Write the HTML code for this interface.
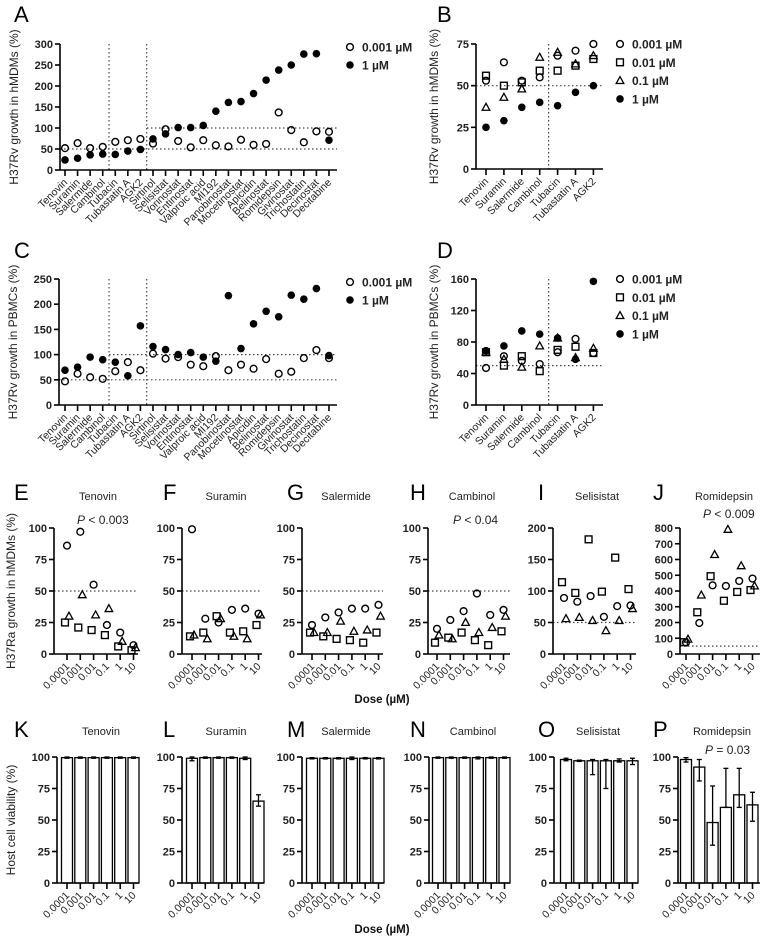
<!DOCTYPE html>
<html><head><meta charset="utf-8">
<style>
html,body{margin:0;padding:0;background:#fff;}
svg{display:block;font-family:"Liberation Sans",Arial,sans-serif;}
</style></head>
<body>
<svg id="fig" width="778" height="944" viewBox="0 0 778 944" xmlns="http://www.w3.org/2000/svg"></svg>
<script>
// ---------- DATA ----------
const catsA = ['Tenovin','Suramin','Salermide','Cambinol','Tubacin','Tubastatin A','AGK2','Sirtinol','Selisistat','Vorinostat','Entinostat','Valproic acid','MI192','Panobinostat','Mocetinostat','Apicidin','Belinostat','Romidepsin','Givinostat','Trichostatin','Decinostat','Decitabine'];
const aOpen   = [52,64,52,55,67,71,74,63,97,69,54,71,59,56,72,60,62,137,95,66,92,91];
const aFilled = [24,28,36,38,37,45,49,74,86,101,101,106,140,161,163,182,214,238,250,276,277,71];
const cOpen   = [47,62,55,52,67,85,69,102,92,95,80,77,97,69,80,72,91,62,66,93,109,93];
const cFilled = [69,75,95,90,85,58,157,116,110,100,104,95,87,217,112,161,186,175,218,210,231,98];
const catsB = ['Tenovin','Suramin','Salermide','Cambinol','Tubacin','Tubastatin A','AGK2'];
const bCircle = [53,64,53,55,68,71,75];
const bSquare = [56,50,52,59,59,62,66];
const bTri    = [37,43,48,67,70,63,68];
const bFilled = [25,29,37,40,38,46,50];
const dCircle = [47,62,56,52,67,84,66];
const dSquare = [67,50,62,43,70,74,66];
const dTri    = [67,58,48,75,85,60,72];
const dFilled = [69,75,94,90,85,58,157];
const doses = ['0.0001','0.001','0.01','0.1','1','10'];
const tenCircle=[86,97,55,23,17,7], tenSquare=[25,21,19,15,6,3], tenTri=[30,47,31,36,10,5];
const surCircle=[99,28,25,35,36,32], surSquare=[14,17,30,17,18,23], surTri=[15,12,28,14,12,31];
const salCircle=[23,29,33,36,36,39], salSquare=[17,14,12,11,9,17], salTri=[17,17,26,18,19,30];
const camCircle=[20,27,34,48,31,35], camSquare=[9,13,17,11,7,18], camTri=[15,12,25,17,21,30];
const selCircle=[89,83,92,59,76,77], selSquare=[114,97,182,99,153,103], selTri=[56,58,53,37,53,72];
const romCircle=[73,197,436,432,464,479], romSquare=[75,265,494,338,394,406], romTri=[94,374,631,791,560,432];
const vTen=[99.5,99.5,99.5,99.5,99.5,99.5], vTenLo=[99,99,99,99,99,99], vTenHi=[100,100,100,100,100,100];
const vSur=[99,99.5,99.5,99.5,99,65], vSurLo=[97,99,99,99,98,61], vSurHi=[100,100,100,100,100,70];
const vSal=[99,99,99,99,99,99], vSalLo=[98.5,98.5,98.5,98,98.5,98.5], vSalHi=[99.5,99.5,99.5,100,99.5,99.5];
const vCam=[99.5,99.5,99.5,99.5,99.5,99.5], vCamLo=[99,99,99,98.5,99,99], vCamHi=[100,100,100,100,100,100];
const vSel=[98,97,97,97,97,97], vSelLo=[97,96.5,86,75,96,94], vSelHi=[99,97.5,98,98,98.5,99];
const vRom=[98,92,48,60,70,62], vRomLo=[96,81,30,60,60,49], vRomHi=[99.5,98,77,91,91,72];

// ---------- HELPERS ----------
const NS='http://www.w3.org/2000/svg';
const svg=document.getElementById('fig');
function el(tag,attrs,parent,txt){const e=document.createElementNS(NS,tag);for(const k in attrs)e.setAttribute(k,attrs[k]);if(txt!==undefined)e.textContent=txt;(parent||svg).appendChild(e);return e;}
function sy(v,p){return p.yb-(v-p.min)/(p.max-p.min)*(p.yb-p.yt);}
function marker(g,type,x,y,name){
  let m;
  if(type==='circle') m=el('circle',{cx:x,cy:y,r:3.4,fill:'none',stroke:'#000','stroke-width':1.4},g);
  else if(type==='filled') m=el('circle',{cx:x,cy:y,r:3.8,fill:'#000'},g);
  else if(type==='square') m=el('rect',{x:x-3.4,y:y-3.4,width:6.8,height:6.8,fill:'none',stroke:'#000','stroke-width':1.4},g);
  else m=el('polygon',{points:`${x},${y-4} ${x+3.8},${y+2.9} ${x-3.8},${y+2.9}`,fill:'none',stroke:'#000','stroke-width':1.3},g);
  
  
  return m;
}
function yAxis(g,p,ticks,fs){
  el('line',{x1:p.ax,y1:p.yt,x2:p.ax,y2:p.yb,stroke:'#000','stroke-width':1.6},g);
  ticks.forEach(t=>{const y=sy(t,p);
    el('line',{x1:p.ax-5,y1:y,x2:p.ax,y2:y,stroke:'#000','stroke-width':1.6},g);
    const tx=el('text',{x:p.ax-7,y:y+4,'font-size':fs||11,'text-anchor':'end','font-weight':'bold',fill:'#222'},g,String(t));
    
    
  });
}
function xAxis(g,p,labels,xs,fs){
  el('line',{x1:p.ax,y1:p.yb,x2:p.xe,y2:p.yb,stroke:'#000','stroke-width':1.6},g);
  labels.forEach((l,i)=>{const x=xs[i];
    el('line',{x1:x,y1:p.yb,x2:x,y2:p.yb+6,stroke:'#000','stroke-width':1.6},g);
    const tx=el('text',{x:x+3,y:p.yb+13,'font-size':fs,'text-anchor':'end',transform:`rotate(-45 ${x+3} ${p.yb+13})`,fill:'#222'},g,l);
    
    
  });
}
function dotted(g,x1,y1,x2,y2){el('line',{x1,y1,x2,y2,stroke:'#444','stroke-width':1.2,'stroke-dasharray':'1.5,2.5'},g);}
function ytitle(g,x,y,t,fs){const e=el('text',{x,y,'font-size':fs||12,'text-anchor':'middle',transform:`rotate(-90 ${x} ${y})`,fill:'#222'},g,t);}
function letter(x,y,t){const e=el('text',{x,y,'font-size':22,fill:'#000'},svg,t);}
function legend(g,x,y0,dy,items){items.forEach((it,i)=>{const y=y0+i*dy;marker(g,it[0],x,y,'legend-marker');const t=el('text',{x:x+12,y:y+4.5,'font-size':12,'font-weight':'bold',fill:'#222'},g,it[1]);});}
function group(name){const g=el('g',{});return g;}

// ---------- PANEL A & C ----------
function wide(name,p,open,filled,ticks,title,hl100){
  const g=group(name);
  const xs=catsA.map((c,i)=>p.x0+i*p.step);
  dotted(g,p.x0+3.5*p.step,p.yt,p.x0+3.5*p.step,p.yb);
  dotted(g,p.x0+6.5*p.step,p.yt,p.x0+6.5*p.step,p.yb);
  dotted(g,hl100,sy(100,p),p.xe,sy(100,p));
  dotted(g,p.ax,sy(50,p),p.xe,sy(50,p));
  yAxis(g,p,ticks);
  xAxis(g,p,catsA,xs,10.5);
  ytitle(g,p.ax-42,(p.yt+p.yb)/2,title);
  open.forEach((v,i)=>marker(g,'circle',xs[i],sy(v,p),'point-0.001'));
  filled.forEach((v,i)=>marker(g,'filled',xs[i],sy(v,p),'point-1'));
  legend(g,350,p.yt+3,18,[['circle','0.001 µM'],['filled','1 µM']]);
}
wide('panel-a',{ax:60,yt:44,yb:170,min:0,max:300,x0:65,step:12.57,xe:337},aOpen,aFilled,[0,50,100,150,200,250,300],'H37Rv growth in hMDMs (%)',147);
wide('panel-c',{ax:59,yt:279,yb:405,min:0,max:250,x0:65,step:12.57,xe:337},cOpen,cFilled,[0,50,100,150,200,250],'H37Rv growth in PBMCs (%)',109);

// ---------- PANEL B & D ----------
function narrow(name,p,series,ticks,title){
  const g=group(name);
  const xs=catsB.map((c,i)=>p.x0+i*p.step);
  dotted(g,p.x0+3.5*p.step,p.yt,p.x0+3.5*p.step,p.yb);
  dotted(g,p.ax,sy(50,p),p.xe,sy(50,p));
  yAxis(g,p,ticks);
  xAxis(g,p,catsB,xs,10.5);
  ytitle(g,p.ax-38,(p.yt+p.yb)/2,title);
  const types=['circle','square','triangle','filled'];
  series.forEach((s,k)=>s.forEach((v,i)=>marker(g,types[k],xs[i],sy(v,p),'point-'+types[k])));
  legend(g,620,p.yt,18.3,[['circle','0.001 µM'],['square','0.01 µM'],['triangle','0.1 µM'],['filled','1 µM']]);
}
narrow('panel-b',{ax:476,yt:44,yb:169,min:0,max:75,x0:486,step:17.9,xe:603},[bCircle,bSquare,bTri,bFilled],[0,25,50,75],'H37Rv growth in hMDMs (%)');
narrow('panel-d',{ax:476,yt:279,yb:405,min:0,max:160,x0:486,step:17.9,xe:603},[dCircle,dSquare,dTri,dFilled],[0,40,80,120,160],'H37Rv growth in PBMCs (%)');

// ---------- PANELS E-J ----------
function dosePanel(name,p,drug,series,ticks,ptext,ppos){
  const g=group(name);
  const xs=doses.map((d,i)=>p.x0+i*13.3);
  dotted(g,p.ax,sy(50,p),p.xe,sy(50,p));
  yAxis(g,p,ticks);
  xAxis(g,p,doses,xs,10.5);
  const t=el('text',{x:p.ax+44,y:500,'font-size':11,'text-anchor':'middle',fill:'#222'},g,drug);
  const types=['circle','square','triangle'], off=[0,-2,2];
  series.forEach((s,k)=>s.forEach((v,i)=>marker(g,types[k],xs[i]+off[k],sy(v,p),'point-'+types[k])));
  if(ptext){const pt=el('text',{x:ppos[0],y:ppos[1],'font-size':12,fill:'#222'},g);
    el('tspan',{'font-style':'italic'},pt,'P');el('tspan',{},pt,ptext);}
}
const rowE={yt:528,yb:654};
dosePanel('panel-e',{ax:54,x0:67,xe:138,min:0,max:100,...rowE},'Tenovin',[tenCircle,tenSquare,tenTri],[0,25,50,75,100],' < 0.003',[77,524]);
dosePanel('panel-f',{ax:182,x0:192,xe:262,min:0,max:100,...rowE},'Suramin',[surCircle,surSquare,surTri],[0,25,50,75,100]);
dosePanel('panel-g',{ax:302,x0:312,xe:383,min:0,max:100,...rowE},'Salermide',[salCircle,salSquare,salTri],[0,25,50,75,100]);
dosePanel('panel-h',{ax:428,x0:437,xe:510,min:0,max:100,...rowE},'Cambinol',[camCircle,camSquare,camTri],[0,25,50,75,100],' < 0.04',[453,524]);
dosePanel('panel-i',{ax:553,x0:564,xe:636,min:0,max:200,...rowE},'Selisistat',[selCircle,selSquare,selTri],[0,50,100,150,200]);
dosePanel('panel-j',{ax:680,x0:686,xe:760,min:0,max:800,...rowE},'Romidepsin',[romCircle,romSquare,romTri],[0,100,200,300,400,500,600,700,800],' < 0.009',[703,518]);
ytitle(svg,15,591,'H37Ra growth in hMDMs (%)');

// ---------- PANELS K-P ----------
function barPanel(name,p,drug,vals,lo,hi,ptext,ppos){
  const g=group(name);
  const xs=doses.map((d,i)=>p.x0+i*13.3);
  vals.forEach((v,i)=>{const b=el('rect',{x:xs[i]-5.5,y:sy(v,p),width:11,height:p.yb-sy(v,p),fill:'#fff',stroke:'#000','stroke-width':1.3},g);
    
    
    const y1=sy(lo[i],p),y2=sy(hi[i],p);
    el('line',{x1:xs[i],y1:y1,x2:xs[i],y2:y2,stroke:'#000','stroke-width':1.3},g);
    el('line',{x1:xs[i]-2.5,y1:y1,x2:xs[i]+2.5,y2:y1,stroke:'#000','stroke-width':1.3},g);
    el('line',{x1:xs[i]-2.5,y1:y2,x2:xs[i]+2.5,y2:y2,stroke:'#000','stroke-width':1.3},g);
  });
  yAxis(g,p,[0,25,50,75,100]);
  xAxis(g,p,doses,xs,10.5);
  const t=el('text',{x:p.ax+44,y:735,'font-size':11,'text-anchor':'middle',fill:'#222'},g,drug);
  if(ptext){const pt=el('text',{x:ppos[0],y:ppos[1],'font-size':12,fill:'#222'},g);
    el('tspan',{'font-style':'italic'},pt,'P');el('tspan',{},pt,ptext);}
}
const rowK={yt:757,yb:883,min:0,max:100};
barPanel('panel-k',{ax:57,x0:67,xe:139,...rowK},'Tenovin',vTen,vTenLo,vTenHi);
barPanel('panel-l',{ax:182,x0:192,xe:264,...rowK},'Suramin',vSur,vSurLo,vSurHi);
barPanel('panel-m',{ax:302,x0:312,xe:384,...rowK},'Salermide',vSal,vSalLo,vSalHi);
barPanel('panel-n',{ax:429,x0:438,xe:510,...rowK},'Cambinol',vCam,vCamLo,vCamHi);
barPanel('panel-o',{ax:554,x0:566,xe:638,...rowK},'Selisistat',vSel,vSelLo,vSelHi);
barPanel('panel-p',{ax:678,x0:686,xe:760,...rowK},'Romidepsin',vRom,vRomLo,vRomHi,' = 0.03',[705,754]);
ytitle(svg,15,820,'Host cell viability (%)');

// ---------- LABELS ----------
[['A',14,22],['B',437,22],['C',14,258],['D',437,258],['E',14,500],['F',163,500],['G',287,500],['H',410,500],['I',538,500],['J',653,500],['K',14,737],['L',163,737],['M',287,737],['N',410,737],['O',538,737],['P',653,737]].forEach(a=>letter(a[1],a[2],a[0]));
[[382,703],[382,933]].forEach(d=>{const t=el('text',{x:d[0],y:d[1],'font-size':11.5,'font-weight':'bold','text-anchor':'middle',fill:'#111'},svg,'Dose (µM)');});
</script>
</body></html>
